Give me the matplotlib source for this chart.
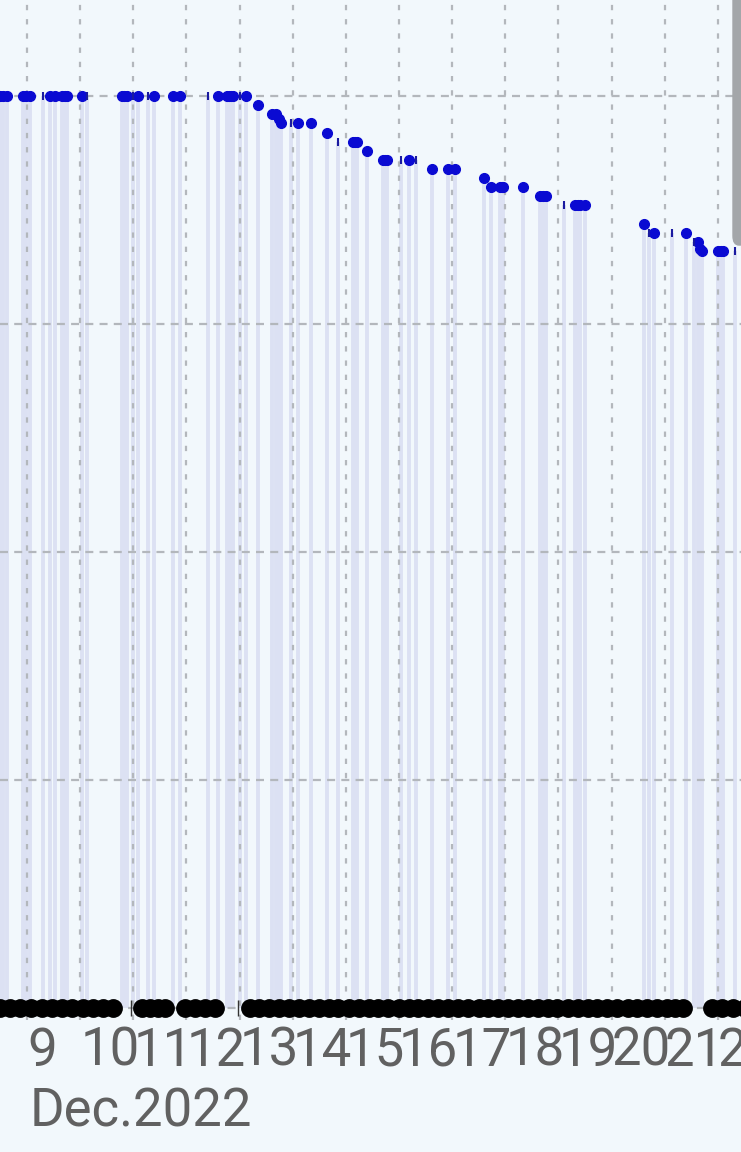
import matplotlib.pyplot as plt
from matplotlib.patches import FancyBboxPatch

# blue readings (day of Dec. 2022, value)
blue_days = [8.49, 8.55, 8.62, 8.92, 8.98, 9.05, 9.43, 9.53, 9.66, 9.71, 9.75,
             10.03, 10.79, 10.83, 10.88, 11.09, 11.39, 11.75, 11.88, 12.59,
             12.76, 12.80, 12.84, 12.88, 13.12, 13.35, 13.61, 13.69, 13.74,
             13.78, 14.10, 14.34, 14.64, 15.13, 15.17, 15.21, 15.40, 15.70,
             15.74, 15.77, 16.19, 16.62, 16.92, 17.05, 17.60, 17.73, 17.90,
             17.93, 17.96, 18.33, 18.65, 18.70, 18.76, 19.31, 19.36, 19.41,
             19.50, 20.61, 20.80, 21.40, 21.62, 21.66, 21.70, 22.00, 22.05,
             22.10]
blue_vals = [100, 100, 100, 100, 100, 100, 100, 100, 100, 100, 100,
             100, 100, 100, 100, 100, 100, 100, 100, 100,
             100, 100, 100, 100, 100, 99, 98, 98, 97.5,
             97, 97, 97, 96, 95, 95, 95, 94, 93,
             93, 93, 93, 92, 92, 92, 91, 90, 90,
             90, 90, 90, 89, 89, 89, 88, 88, 88,
             88, 86, 85, 85, 84, 83.2, 83, 83, 83,
             83]

# small tick marks
tick_days = [9.30, 10.13, 11.00, 11.28, 12.41, 13.01, 13.97, 14.85, 16.04,
             16.32, 19.10, 20.70, 21.14, 21.55, 22.32]
tick_vals = [100, 100, 100, 100, 100, 100, 97, 95, 93,
             93, 88, 85, 85, 84, 83]

# black readings at zero
black_days = [8.49, 8.68, 8.87, 9.08, 9.28, 9.47, 9.66, 9.85, 10.05, 10.24,
              10.43, 10.62, 11.16, 11.31, 11.46, 11.60, 11.97, 12.16, 12.34,
              12.54, 13.19, 13.37, 13.55, 13.74, 13.93, 14.12, 14.30, 14.49,
              14.68, 14.86, 15.05, 15.24, 15.43, 15.61, 15.80, 15.99, 16.18,
              16.36, 16.55, 16.74, 16.92, 17.11, 17.30, 17.50, 17.68, 17.86,
              18.05, 18.24, 18.42, 18.61, 18.80, 18.98, 19.17, 19.36, 19.55,
              19.73, 19.92, 20.11, 20.30, 20.48, 20.67, 20.86, 21.04, 21.20,
              21.35, 21.89, 22.08, 22.28, 22.51]
black_ticks = [10.96, 12.97]

days = list(range(9, 23))

bg = '#f2f8fc'
fig = plt.figure(figsize=(7.41, 11.52), dpi=100, facecolor=bg)
ax = fig.add_axes([0, 0.1146, 1, 0.8854])
ax.set_facecolor(bg)

ax.vlines(blue_days + tick_days, 0, blue_vals + tick_vals, color='#dce1f3',
          lw=2.8, zorder=1)
ax.plot(blue_days, blue_vals, 'o', color='#0a0ad2', ms=7, zorder=3, clip_on=False)
ax.plot(tick_days, tick_vals, '|', color='#1a1aa0', ms=6, mew=1.5, zorder=3)
ax.plot(black_days, [0] * len(black_days), 'o', color='black', ms=12.5, zorder=4,
        clip_on=False)
ax.plot(black_ticks, [0, 0], '|', color='#333333', ms=12, mew=1, zorder=4,
        clip_on=False)

ax.set_xlim(8.492, 22.434)
ax.set_ylim(-1.32, 110.53)
ax.set_xticks(days)
ax.set_xticklabels([str(d) for d in days], ha='left', fontsize=38,
                   color='#616161', fontfamily='Roboto')
ax.set_yticks([0, 25, 50, 75, 100])
ax.tick_params(axis='x', length=0, pad=4)
ax.tick_params(axis='y', length=0, labelleft=False)
ax.set_axisbelow(False)
ax.xaxis.grid(True, color='#b3b7bc', lw=1.6, linestyle=(0, (2.4, 4.0)))
ax.yaxis.grid(True, color='#b3b7bc', lw=1.6, linestyle=(0, (3.6, 2.8)))
for s in ax.spines.values():
    s.set_visible(False)

fig.text(0.040, 0.022, 'Dec.2022', fontsize=38, color='#616161',
         fontfamily='Roboto', va='baseline')

# phone scrollbar
fig.patches.append(FancyBboxPatch((733 / 741, 907 / 1152), 0.03, 0.25,
                                  boxstyle='round,pad=0,rounding_size=0.008',
                                  transform=fig.transFigure, color='#a3a6a9',
                                  zorder=10))

plt.savefig('out.png', dpi=100, facecolor=bg)
